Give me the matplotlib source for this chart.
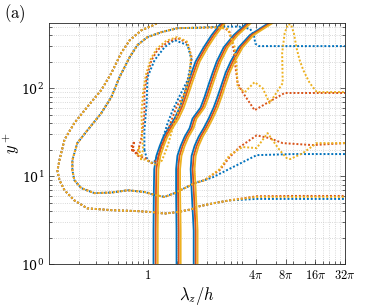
import numpy as np
import matplotlib
matplotlib.use("Agg")
import matplotlib.pyplot as plt
from matplotlib.ticker import LogLocator, NullFormatter

plt.rcParams['mathtext.fontset'] = 'cm'
plt.rcParams['font.family'] = 'serif'
plt.rcParams['font.serif'] = ['DejaVu Serif']

BLUE = '#0072BD'
ORANGE = '#D95319'
YELLOW = '#EDB120'

# solid contours: shared y+, lambda_z/h per colour
solid_y = [1, 2.4, 7, 12, 17, 22, 28, 35, 45, 60, 80, 110, 150, 200, 290, 400, 560]
solid1_blue = [1.15, 1.15, 1.16, 1.17, 1.23, 1.33, 1.45, 1.63, 1.88, 2.12, 2.32, 2.55, 2.80, 3.07, 3.71, 4.47, 5.65]
solid1_orange = [1.21, 1.21, 1.22, 1.23, 1.29, 1.39, 1.52, 1.71, 1.97, 2.22, 2.43, 2.67, 2.94, 3.22, 3.89, 4.69, 5.92]
solid1_yellow = [1.27, 1.27, 1.28, 1.29, 1.35, 1.46, 1.59, 1.79, 2.07, 2.33, 2.55, 2.80, 3.08, 3.38, 4.08, 4.92, 6.20]
solid2_blue = [1.97, 1.97, 1.95, 1.95, 2.01, 2.17, 2.38, 2.67, 2.86, 3.45, 3.80, 4.17, 4.58, 5.03, 5.92, 7.48, 10.4]
solid2_orange = [2.07, 2.07, 2.04, 2.04, 2.11, 2.27, 2.49, 2.80, 3.00, 3.62, 3.98, 4.37, 4.80, 5.27, 6.21, 7.84, 10.9]
solid2_yellow = [2.17, 2.17, 2.14, 2.14, 2.21, 2.38, 2.61, 2.93, 3.14, 3.79, 4.17, 4.58, 5.03, 5.52, 6.51, 8.22, 11.4]
solid3_blue = [2.94, 2.94, 2.80, 2.74, 2.80, 3.00, 3.30, 3.71, 4.17, 4.68, 5.14, 5.65, 6.20, 6.97, 8.40, 10.9, 17.4]
solid3_orange = [3.08, 3.08, 2.94, 2.87, 2.94, 3.15, 3.46, 3.89, 4.37, 4.91, 5.39, 5.92, 6.50, 7.31, 8.81, 11.4, 18.2]
solid3_yellow = [3.22, 3.22, 3.08, 3.00, 3.08, 3.30, 3.63, 4.08, 4.58, 5.15, 5.65, 6.20, 6.81, 7.66, 9.23, 11.9, 19.1]

# dotted contour 1 (outermost), (lambda_z/h, y+)
d1_left = [(1.45, 600), (1.15, 520), (0.87, 455), (0.66, 350), (0.54, 250),
           (0.43, 148), (0.34, 95), (0.245, 61), (0.181, 40), (0.144, 26),
           (0.128, 15.2), (0.122, 11.5), (0.128, 9.0), (0.144, 6.9), (0.181, 5.3),
           (0.245, 4.3), (0.43, 4.1), (0.79, 4.0), (1.1, 3.9), (1.49, 3.75),
           (2.02, 3.9), (2.8, 4.2), (3.1, 4.45), (4.6, 4.9), (6.8, 5.3)]
d1_tail_blue = [(12.8, 5.5), (30, 5.5), (100.5, 5.5)]
d1_tail_orange = [(12.8, 5.9), (30, 5.95), (100.5, 5.95)]
d1_tail_yellow = [(12.8, 5.8), (30, 5.8), (100.5, 5.8)]

# dotted contour 2
d2_mid = [(3.8, 9.0), (3.0, 8.3), (2.38, 7.3), (1.88, 6.4), (1.49, 5.8), (1.18, 6.1),
          (0.93, 6.6), (0.63, 6.9), (0.43, 6.5), (0.29, 6.4), (0.213, 7.3), (0.181, 9.0),
          (0.173, 11.7), (0.173, 15.2), (0.194, 23.7), (0.245, 33), (0.34, 52),
          (0.43, 79), (0.52, 133), (0.66, 225), (0.79, 308), (1.0, 380), (1.39, 433),
          (2.02, 480), (3.22, 485)]
d2_low_blue = [(100.5, 17.8), (30, 17.8), (12.8, 17.3), (7.3, 12.6), (4.6, 9.7)]
d2_top_blue = [(5.5, 500), (8.5, 500), (11.0, 470), (12.0, 400), (12.4, 320),
               (13.5, 300), (30, 300), (100.5, 300)]
d2_low_orange = [(100.5, 23.7), (47.5, 22.5), (23.5, 23.7), (17.3, 27), (12.8, 29),
                 (8.6, 21.4), (6.8, 16.4), (5.4, 11.7)]
d2_top_orange = [(5.0, 490), (6.1, 480), (6.8, 433), (7.5, 270), (7.8, 174), (8.2, 114),
                 (9.2, 90), (12.2, 56), (16.2, 67.5), (24.6, 88), (100.5, 88)]
d2_low_yellow = [(100.5, 23.7), (52, 23.7), (37.5, 18.2), (28, 15.6), (25.8, 16),
                 (21.9, 19.7), (16.5, 30.8), (12.8, 20.8), (9.2, 21.4), (6.8, 17.3),
                 (5.4, 12)]
d2_top_yellow = [(5.0, 490), (6.5, 470), (7.6, 300), (8.0, 192), (8.2, 103), (9.7, 90),
                 (12.2, 117), (14.7, 100), (17.3, 67.5), (20.5, 90), (23.5, 114),
                 (23.2, 250), (24.6, 420), (26.5, 530), (28.5, 530), (30.5, 420),
                 (32.6, 280), (34.9, 208), (38, 160), (44, 115), (52, 90), (100.5, 90)]

# dotted contour 3 (island)
d3_blue = [(0.93, 19.7), (0.93, 33), (0.98, 67), (1.0, 133), (1.18, 208), (1.49, 292),
           (1.88, 351), (2.55, 308), (2.8, 208), (2.55, 123), (2.1, 80), (1.8, 56),
           (1.6, 40), (1.45, 28), (1.3, 18), (1.15, 14), (1.0, 15), (0.93, 19.7)]
d3_orange = [(0.69, 22.5), (0.70, 18.7), (0.73, 25), (0.71, 20), (0.79, 18.2), (0.86, 26),
             (0.89, 33), (0.93, 52), (0.93, 88), (0.98, 133), (1.1, 208), (1.26, 270),
             (1.6, 333), (2.02, 370), (2.55, 325), (2.8, 225), (2.67, 140), (2.38, 88),
             (1.97, 61), (1.75, 43), (1.55, 29), (1.4, 19.7), (1.25, 15), (1.1, 14),
             (0.95, 16), (0.8, 17), (0.72, 19.5)]
d3_yellow = [(0.79, 17), (0.82, 21), (0.86, 15.5), (0.9, 20), (0.88, 30), (0.87, 52),
             (0.9, 88), (0.96, 140), (1.08, 215), (1.24, 280), (1.55, 345), (2.0, 380),
             (2.5, 340), (2.75, 240), (2.7, 150), (2.5, 100), (2.2, 70), (2.0, 50),
             (1.8, 35), (1.6, 22), (1.4, 15), (1.2, 13.5), (1.0, 15), (0.85, 16)]

xtick_vals = [1, 4 * np.pi, 8 * np.pi, 16 * np.pi, 32 * np.pi]
xtick_labels = ['$1$', r'$4\pi$', r'$8\pi$', r'$16\pi$', r'$32\pi$']

fig = plt.figure(figsize=(3.82, 3.06), dpi=100)
ax = fig.add_axes([0.128, 0.137, 0.775, 0.788])

dot = (0, (1, 1))


def dotted(pts, c):
    xs, ys = zip(*pts)
    ax.plot(xs, ys, color=c, lw=1.4, ls=dot)


curves = {
    BLUE: (solid1_blue, solid2_blue, solid3_blue,
           d1_left + d1_tail_blue, d2_low_blue + d2_mid + d2_top_blue, d3_blue),
    ORANGE: (solid1_orange, solid2_orange, solid3_orange,
             d1_left + d1_tail_orange, d2_low_orange + d2_mid + d2_top_orange, d3_orange),
    YELLOW: (solid1_yellow, solid2_yellow, solid3_yellow,
             d1_left + d1_tail_yellow, d2_low_yellow + d2_mid + d2_top_yellow, d3_yellow),
}

for c, (s1, s2, s3, d1, d2, d3) in curves.items():
    for s in (s1, s2, s3):
        ax.plot(s, solid_y, color=c, lw=1.3)
    dotted(d1, c)
    dotted(d2, c)
    dotted(d3, c)

ax.set_xscale('log')
ax.set_yscale('log')
ax.set_xlim(0.1, 32 * np.pi)
ax.set_ylim(1, 550)

ax.set_xticks(xtick_vals)
ax.set_xticklabels(xtick_labels)
ax.xaxis.set_minor_locator(LogLocator(base=10, subs=np.arange(2, 10)))
ax.xaxis.set_minor_formatter(NullFormatter())
ax.yaxis.set_minor_locator(LogLocator(base=10, subs=np.arange(2, 10)))
ax.yaxis.set_minor_formatter(NullFormatter())

ax.grid(True, which='both', color='#cccccc', ls=':', lw=0.6)
ax.set_axisbelow(True)
ax.tick_params(which='both', direction='in', top=True, right=True,
               color='#262626', labelsize=9, width=0.5)
ax.tick_params(which='major', length=3.5)
ax.tick_params(which='minor', length=2)
for sp in ax.spines.values():
    sp.set_color('#262626')
    sp.set_linewidth(0.6)

ax.set_xlabel(r'$\lambda_z/h$', fontsize=12, labelpad=2)
ax.set_ylabel(r'$y^+$', fontsize=12)
ax.yaxis.set_label_coords(-0.09, 0.5)
fig.text(0.01, 0.955, r'$\mathrm{(a)}$', fontsize=12, ha='left', va='center')

fig.savefig('out.png', dpi=100)
